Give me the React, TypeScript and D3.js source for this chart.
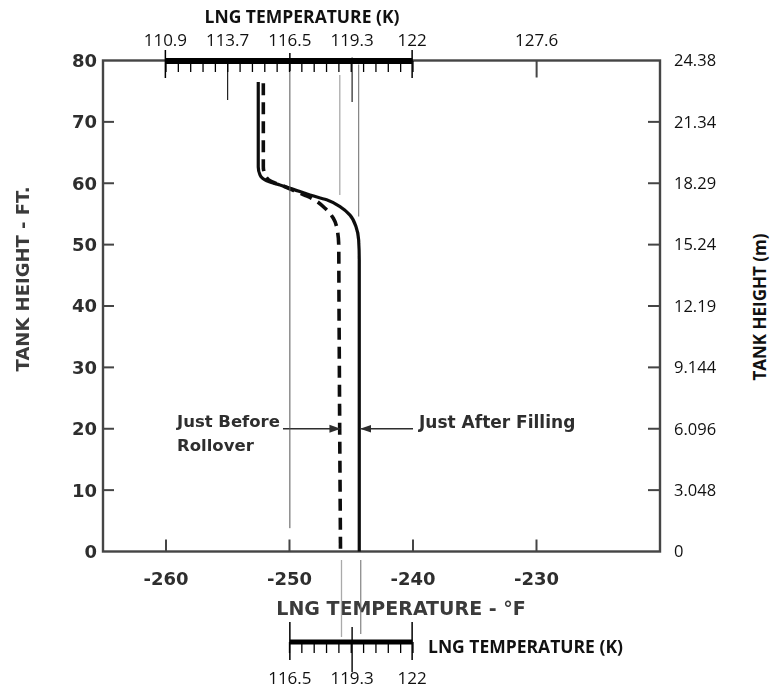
import React from "react";
import * as d3 from "d3";

// Tank height axis (feet) and its metric labels
const heightFtTicks = [0, 10, 20, 30, 40, 50, 60, 70, 80];
const heightMLabels = ["0", "3.048", "6.096", "9.144", "12.19", "15.24", "18.29", "21.34", "24.38"];

// Temperature axis (°F)
const tempFTicks = [-260, -250, -240, -230];

// Kelvin scales drawn above and below the plot
const topKelvinLabels = ["110.9", "113.7", "116.5", "119.3", "122", "127.6"];
const bottomKelvinLabels = ["116.5", "119.3", "122"];

// Profile just after filling (solid)
const afterFillingH = [76.5, 62.7, 61.35, 60.4, 59.7, 59.0, 58.1, 57.3, 56.2, 54.8, 52.9, 50.75, 47.5, 0];
const afterFillingT = [-252.53, -252.53, -252.39, -251.85, -250.77, -249.69, -248.34, -246.99, -245.91, -245.1, -244.61, -244.4, -244.35, -244.35];

// Profile just before rollover (dashed)
const beforeRolloverH = [76.3, 62.7, 61.35, 60.25, 59.55, 58.62, 57.55, 55.92, 54.29, 52.38, 49.66, 44.77, 0];
const beforeRolloverT = [-252.12, -252.12, -251.98, -251.44, -250.5, -249.42, -248.2, -247.12, -246.45, -246.13, -246.01, -246.0, -245.87];

const kToF = (k: number) => k * 1.8 - 459.67;

const W = 771;
const H = 689;

export default function App() {
  const left = 103;
  const right = 660;
  const top = 60.5;
  const bottom = 551.5;

  const x = d3.scaleLinear().domain([-265.1, -220]).range([left, right]);
  const y = d3.scaleLinear().domain([0, 80]).range([bottom, top]);

  const line = d3
    .line<[number, number]>()
    .x((d) => x(d[0]))
    .y((d) => y(d[1]))
    .curve(d3.curveMonotoneY);

  const solidPts: [number, number][] = afterFillingT.map((t, i) => [t, afterFillingH[i]]);
  const dashPts: [number, number][] = beforeRolloverT.map((t, i) => [t, beforeRolloverH[i]]);
  solidPts.sort((a, b) => b[1] - a[1]);
  dashPts.sort((a, b) => b[1] - a[1]);

  const tSolid = afterFillingT[afterFillingT.length - 1];
  const tDash = beforeRolloverT[beforeRolloverT.length - 1];

  const topMinor = d3.range(-260, -239, 1);
  const bottomMinor = d3.range(-250, -239, 1);

  const scanFont = "'DejaVu Sans', sans-serif";
  const cleanFont = "'Open Sans', sans-serif";
  const scanInk = "#2e2e2e";

  const topBarY = 61;
  const botBarY = 642;

  const kx = (s: string) => x(kToF(parseFloat(s)));

  return (
    <svg width={W} height={H} style={{ position: "absolute", left: 0, top: 0, display: "block", background: "#fff" }}>
      <defs>
        <filter id="soft" x="-5%" y="-5%" width="110%" height="110%">
          <feGaussianBlur stdDeviation="0.45" />
        </filter>
        <marker id="arrR" viewBox="0 0 10 10" refX="9" refY="5" markerWidth="7" markerHeight="7" orient="auto">
          <path d="M0,1.5 L10,5 L0,8.5 z" fill={scanInk} />
        </marker>
      </defs>

      {/* scanned chart body */}
      <g filter="url(#soft)">
        {/* frame */}
        <rect x={left} y={top} width={right - left} height={bottom - top} fill="none" stroke="#444" strokeWidth={2.4} />

        {/* left ticks + labels */}
        {heightFtTicks.map((h) => (
          <g key={"l" + h}>
            {h > 0 && h < 80 && <line x1={left} x2={left + 11} y1={y(h)} y2={y(h)} stroke="#444" strokeWidth={2} />}
            <text x={97} y={y(h)} dy="0.36em" textAnchor="end" fontFamily={scanFont} fontWeight="bold" fontSize={18} fill={scanInk}>
              {h}
            </text>
          </g>
        ))}
        {/* right ticks */}
        {heightFtTicks.map((h) =>
          h > 0 && h < 80 ? <line key={"r" + h} x1={right - 12} x2={right} y1={y(h)} y2={y(h)} stroke="#444" strokeWidth={2} /> : null
        )}

        {/* bottom ticks + labels */}
        {tempFTicks.map((t) => (
          <g key={"b" + t}>
            <line x1={x(t)} x2={x(t)} y1={bottom} y2={bottom - 12} stroke="#444" strokeWidth={2} />
            <text x={x(t)} y={bottom + 33} textAnchor="middle" fontFamily={scanFont} fontWeight="bold" fontSize={18} fill={scanInk}>
              {"-" + Math.abs(t)}
            </text>
          </g>
        ))}
        <line x1={x(kToF(127.6))} x2={x(kToF(127.6))} y1={top} y2={top + 17} stroke="#444" strokeWidth={2} />

        {/* axis titles */}
        <text x={401} y={615} textAnchor="middle" fontFamily={scanFont} fontWeight="bold" fontSize={19} fill="#3a3a3a">
          LNG TEMPERATURE - °F
        </text>
        <text transform={`translate(29,${279}) rotate(-90)`} textAnchor="middle" fontFamily={scanFont} fontWeight="bold" fontSize={18} fill="#3a3a3a">
          TANK HEIGHT - FT.
        </text>

        {/* profiles */}
        <path d={line(solidPts) || ""} fill="none" stroke="#111" strokeWidth={3.2} strokeLinejoin="round" />
        <path d={line(dashPts) || ""} fill="none" stroke="#111" strokeWidth={3.6} strokeDasharray="12 7" />

        {/* annotations */}
        <line x1={283} x2={x(tDash) - 1} y1={y(20)} y2={y(20)} stroke={scanInk} strokeWidth={1.6} markerEnd="url(#arrR)" />
        <line x1={413} x2={x(tSolid) + 2} y1={y(20)} y2={y(20)} stroke={scanInk} strokeWidth={1.6} markerEnd="url(#arrR)" />
        <text x={177} y={427} fontFamily={scanFont} fontWeight="bold" fontSize={16.5} fill={scanInk}>Just Before</text>
        <text x={177} y={451} fontFamily={scanFont} fontWeight="bold" fontSize={16.5} fill={scanInk}>Rollover</text>
        <text x={419} y={428} fontFamily={scanFont} fontWeight="bold" fontSize={17} fill={scanInk}>Just After Filling</text>
      </g>

      {/* reference lines */}
      <line x1={kx("116.5")} x2={kx("116.5")} y1={top + 3} y2={y(3.8)} stroke="#555" strokeWidth={1} />
      <line x1={kx("113.7")} x2={kx("113.7")} y1={top} y2={100} stroke="#222" strokeWidth={1.2} />
      <line x1={kx("119.3")} x2={kx("119.3")} y1={top - 3} y2={102} stroke="#222" strokeWidth={1.2} />
      <line x1={x(tDash) - 0.7} x2={x(tDash) - 0.7} y1={75} y2={y(58.1)} stroke="#aaa" strokeWidth={1.3} />
      <line x1={x(tSolid) - 0.6} x2={x(tSolid) - 0.6} y1={top + 4} y2={y(54.6)} stroke="#777" strokeWidth={1.1} />
      <line x1={x(tDash) + 1} x2={x(tDash) + 1} y1={560} y2={637} stroke="#aaa" strokeWidth={1.3} />
      <line x1={x(tSolid) + 1.5} x2={x(tSolid) + 1.5} y1={560} y2={634} stroke="#777" strokeWidth={1.1} />

      {/* top kelvin scale */}
      <line x1={kx("110.9")} x2={kx("122")} y1={topBarY} y2={topBarY} stroke="#000" strokeWidth={6} />
      {topMinor.map((f) => (
        <line key={"tm" + f} x1={x(f)} x2={x(f)} y1={topBarY} y2={topBarY + 11} stroke="#000" strokeWidth={1.3} />
      ))}
      {["110.9", "122"].map((k) => (
        <line key={"tM" + k} x1={kx(k)} x2={kx(k)} y1={50} y2={78} stroke="#000" strokeWidth={1.5} />
      ))}
      <line x1={kx("116.5")} x2={kx("116.5")} y1={53} y2={topBarY + 10} stroke="#000" strokeWidth={1.5} />
      {topKelvinLabels.map((k) => (
        <text key={"tk" + k} x={kx(k)} y={46} textAnchor="middle" fontFamily={cleanFont} fontSize={17} fill="#111">
          {k}
        </text>
      ))}
      <text x={302} y={23} textAnchor="middle" fontFamily={cleanFont} fontWeight="bold" fontSize={17.5} fill="#111">
        LNG TEMPERATURE (K)
      </text>

      {/* right metric labels */}
      {heightFtTicks.map((h, i) => (
        <text key={"m" + h} x={674} y={y(h)} dy="0.35em" fontFamily={cleanFont} fontSize={16.5} fill="#111">
          {heightMLabels[i]}
        </text>
      ))}
      <text transform={`translate(766,${307}) rotate(-90)`} textAnchor="middle" fontFamily={cleanFont} fontWeight="bold" fontSize={17} fill="#111">
        TANK HEIGHT (m)
      </text>

      {/* bottom kelvin scale */}
      <line x1={kx("116.5")} x2={kx("122")} y1={botBarY} y2={botBarY} stroke="#000" strokeWidth={5} />
      {bottomMinor.map((f) => (
        <line key={"bm" + f} x1={x(f)} x2={x(f)} y1={botBarY} y2={botBarY + 11} stroke="#000" strokeWidth={1.3} />
      ))}
      {["116.5", "122"].map((k) => (
        <line key={"bM" + k} x1={kx(k)} x2={kx(k)} y1={622} y2={660} stroke="#000" strokeWidth={1.5} />
      ))}
      <line x1={kx("119.3")} x2={kx("119.3")} y1={627} y2={672} stroke="#000" strokeWidth={1.4} />
      {bottomKelvinLabels.map((k) => (
        <text key={"bk" + k} x={kx(k)} y={684} textAnchor="middle" fontFamily={cleanFont} fontSize={17} fill="#111">
          {k}
        </text>
      ))}
      <text x={428} y={653} fontFamily={cleanFont} fontWeight="bold" fontSize={17.5} fill="#111">
        LNG TEMPERATURE (K)
      </text>
    </svg>
  );
}
